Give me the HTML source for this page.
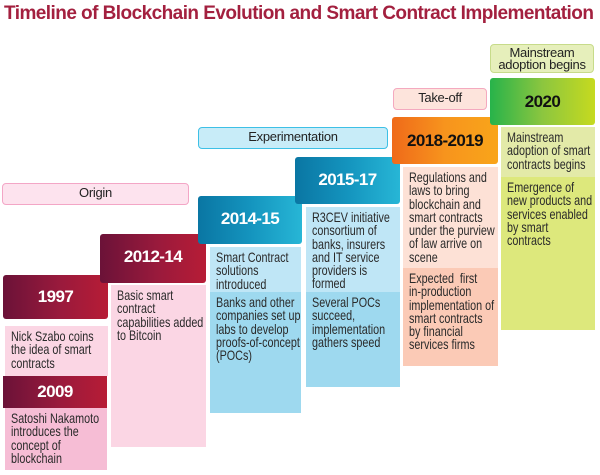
<!DOCTYPE html>
<html><head><meta charset="utf-8"><style>
body{margin:0;width:600px;height:475px;background:#fff;position:relative;overflow:hidden;font-family:"Liberation Sans",Arial,sans-serif}
div{position:absolute;box-sizing:border-box}
.t{left:4px;top:3px;font-size:19px;font-weight:bold;color:#a3203f;letter-spacing:-0.55px;white-space:nowrap}
.lab{border:1.5px solid;border-radius:4px;text-align:center;font-size:13px;letter-spacing:-0.3px;color:#222;line-height:18px}
.h{border-radius:3px;text-align:center;font-weight:bold;font-size:17px;letter-spacing:-0.6px;color:#fff}
.b{overflow:hidden}
.b span{position:absolute;left:6px;top:4px;font-size:14px;line-height:13.3px;color:#2a2a2a;white-space:nowrap;transform:scaleX(0.77);transform-origin:0 0}
.red{background:linear-gradient(90deg,#6b1238,#9a1a3c 55%,#b71c36)}
.blue{background:linear-gradient(90deg,#0a76a3,#1494be 50%,#27b6d6)}
</style></head><body>
<div class="t">Timeline of Blockchain Evolution and Smart Contract Implementation</div>

<div class="lab" style="left:2px;top:183px;width:187px;height:22px;background:#fde3ee;border-color:#f3a6c6">Origin</div>
<div class="lab" style="left:198px;top:127px;width:190px;height:22px;background:#c8ecf8;border-color:#3dc0e6">Experimentation</div>
<div class="lab" style="left:393px;top:88px;width:94px;height:22px;background:#fde4dc;border-color:#f4a9bf">Take-off</div>
<div class="lab" style="left:490px;top:44px;width:104px;height:29px;background:#e6efbb;border-color:#c7db8a;line-height:12px;padding-top:2px">Mainstream<br>adoption begins</div>

<div class="h red" style="left:3px;top:275px;width:105px;height:44px;line-height:44px">1997</div>
<div class="b" style="left:5px;top:326px;width:103px;height:50px;background:#fbd6e4"><span>Nick Szabo coins<br>the idea of smart<br>contracts</span></div>
<div class="h red" style="left:3px;top:376px;width:104px;height:32px;line-height:32px;border-radius:0">2009</div>
<div class="b" style="left:5px;top:408px;width:102px;height:62px;background:#f6bdd5"><span>Satoshi Nakamoto<br>introduces the<br>concept of<br>blockchain</span></div>

<div class="h red" style="left:100px;top:234px;width:106px;height:49px;line-height:46px">2012-14</div>
<div class="b" style="left:111px;top:285px;width:95px;height:162px;background:#fbd6e4"><span>Basic smart<br>contract<br>capabilities added<br>to Bitcoin</span></div>

<div class="h blue" style="left:198px;top:196px;width:104px;height:48px;line-height:46px">2014-15</div>
<div class="b" style="left:210px;top:247px;width:91px;height:45px;background:#bfe6f6"><span>Smart Contract<br>solutions<br>introduced</span></div>
<div class="b" style="left:210px;top:292px;width:91px;height:121px;background:#9ed9ef"><span>Banks and other<br>companies set up<br>labs to develop<br>proofs-of-concept<br>(POCs)</span></div>

<div class="h blue" style="left:295px;top:157px;width:105px;height:47px;line-height:45px">2015-17</div>
<div class="b" style="left:306px;top:207px;width:94px;height:85px;background:#bfe6f6"><span>R3CEV initiative<br>consortium of<br>banks, insurers<br>and IT service<br>providers is<br>formed</span></div>
<div class="b" style="left:306px;top:292px;width:94px;height:95px;background:#9ed9ef"><span>Several POCs<br>succeed,<br>implementation<br>gathers speed</span></div>

<div class="h" style="left:392px;top:117px;width:106px;height:47px;line-height:47px;color:#111;background:linear-gradient(90deg,#ef6a1a,#f7941d 50%,#f9a51a)">2018-2019</div>
<div class="b" style="left:403px;top:167px;width:95px;height:101px;background:#fde1d6"><span>Regulations and<br>laws to bring<br>blockchain and<br>smart contracts<br>under the purview<br>of law arrive on<br>scene</span></div>
<div class="b" style="left:403px;top:268px;width:95px;height:98px;background:#fbcab6"><span>Expected&nbsp; first<br>in-production<br>implementation of<br>smart contracts<br>by financial<br>services firms</span></div>

<div class="h" style="left:490px;top:78px;width:105px;height:47px;line-height:47px;color:#111;background:linear-gradient(90deg,#27b34a,#8cc63f 50%,#c6da1f)">2020</div>
<div class="b" style="left:501px;top:127px;width:94px;height:50px;background:#e3eaa8"><span>Mainstream<br>adoption of smart<br>contracts begins</span></div>
<div class="b" style="left:501px;top:177px;width:94px;height:153px;background:#dde87c"><span>Emergence of<br>new products and<br>services enabled<br>by smart<br>contracts</span></div>
</body></html>
